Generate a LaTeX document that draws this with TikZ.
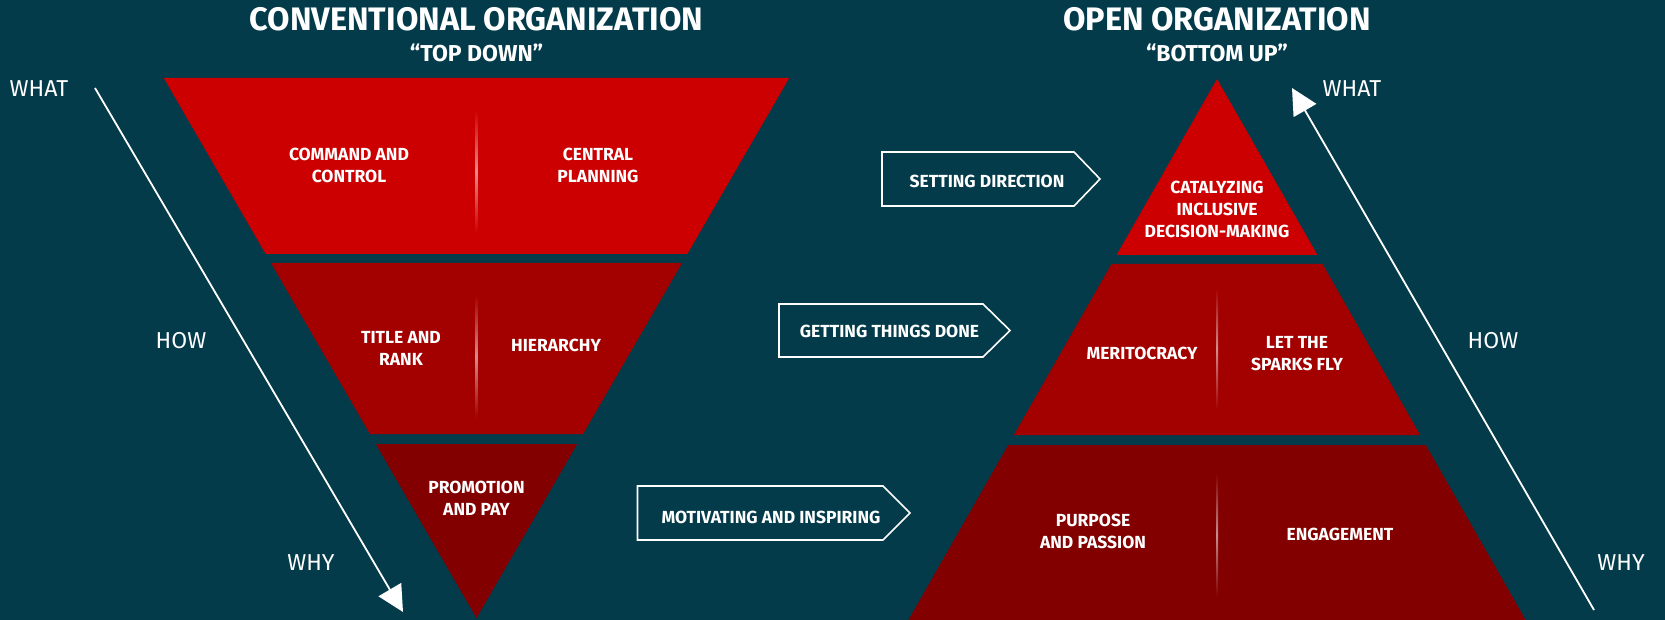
\documentclass[tikz,border=0pt]{standalone}
\usepackage{fontspec}
\setmainfont{Fira Sans}
\usepackage{tikz}
\usetikzlibrary{arrows.meta}

\definecolor{bgteal}{HTML}{033B4A}
\definecolor{redtop}{HTML}{CC0000}
\definecolor{redmid}{HTML}{A30000}
\definecolor{redlow}{HTML}{820000}

\tikzset{
  title/.style={text=white, font=\bfseries\fontsize{32.5}{36}\selectfont},
  subtitle/.style={text=white, font=\bfseries\fontsize{23}{26}\selectfont},
  side/.style={text=white, font=\fontsize{23}{26}\selectfont},
  lbl/.style={text=white, align=center, font=\bfseries\fontsize{17.5}{22}\selectfont},
  arrowbox/.style={draw=white, line width=1.6pt},
  flow/.style={draw=white, line width=1.8pt, -{Triangle[length=26pt,width=26pt]}},
}
\newcommand{\divider}[4]{\shade[top color=#1, bottom color=#1, middle color=#1!45!white]
  (#2-1,#3) rectangle (#2+1,#4);}

\begin{document}
\begin{tikzpicture}[x=1pt, y=-1pt]
\fill[bgteal] (0,0) rectangle (1665,620);
\useasboundingbox (0,0) rectangle (1665,620);

% conventional: top down
\begin{scope}
  \node[title] (convtitle) at (476.5,19) {CONVENTIONAL ORGANIZATION};
  \node[subtitle] (topdown) at (476.5,53) {``TOP DOWN''};
  \fill[redtop] (163.8,78) -- (789.2,78) -- (687.3,254) -- (265.7,254) -- cycle;
  \fill[redmid] (271,263) -- (682,263) -- (583,434) -- (370,434) -- cycle;
  \fill[redlow] (375.8,444) -- (577.2,444) -- (476.5,618) -- cycle;
  \divider{redtop}{476.5}{110}{233}
  \divider{redmid}{476.5}{295}{418}
  \node[lbl] (command) at (349,165) {COMMAND AND\\CONTROL};
  \node[lbl] (central) at (598,165) {CENTRAL\\PLANNING};
  \node[lbl] (title) at (401,348) {TITLE AND\\RANK};
  \node[lbl] (hierarchy) at (556,345) {HIERARCHY};
  \node[lbl] (promotion) at (476.5,498) {PROMOTION\\AND PAY};
  \node[side] (whatL) at (39,89) {WHAT};
  \node[side] (howL) at (181,341) {HOW};
  \node[side] (whyL) at (311,563) {WHY};
  \coordinate (downstart) at (95,88);
  \coordinate (downend) at (403,612);
  \draw[flow] (downstart) -- (downend);
\end{scope}

% open: bottom up
\begin{scope}
  \node[title] (opentitle) at (1217,19) {OPEN ORGANIZATION};
  \node[subtitle] (bottomup) at (1217,53) {``BOTTOM UP''};
  \fill[redtop] (1217,79) -- (1317.4,255) -- (1116.6,255) -- cycle;
  \fill[redmid] (1111.5,264) -- (1322.5,264) -- (1420.1,435) -- (1013.9,435) -- cycle;
  \fill[redlow] (1008.2,445) -- (1425.8,445) -- (1525.6,620) -- (908.4,620) -- cycle;
  \divider{redmid}{1217}{288}{410}
  \divider{redlow}{1217}{473}{597}
  \node[lbl] (catalyzing) at (1217,209) {CATALYZING\\INCLUSIVE\\DECISION-MAKING};
  \node[lbl] (meritocracy) at (1142,353) {MERITOCRACY};
  \node[lbl] (sparks) at (1297,354) {LET THE\\SPARKS FLY};
  \node[lbl] (purpose) at (1093,531) {PURPOSE\\AND PASSION};
  \node[lbl] (engagement) at (1340,534) {ENGAGEMENT};
  \node[side] (whatR) at (1352,89) {WHAT};
  \node[side] (howR) at (1493,341) {HOW};
  \node[side] (whyR) at (1621,563) {WHY};
  \coordinate (upstart) at (1594,610);
  \coordinate (upend) at (1292,88);
  \draw[flow] (upstart) -- (upend);
\end{scope}

% arrow boxes between
\draw[arrowbox] (882,152) -- (1074,152) -- (1100,179) -- (1074,206) -- (882,206) -- cycle;
\node[lbl] (setting) at (987,181) {SETTING DIRECTION};
\draw[arrowbox] (779,304) -- (983,304) -- (1010,330.5) -- (983,357) -- (779,357) -- cycle;
\node[lbl] (getting) at (889.5,331) {GETTING THINGS DONE};
\draw[arrowbox] (637.5,486) -- (883,486) -- (910,513) -- (883,540) -- (637.5,540) -- cycle;
\node[lbl] (motivating) at (771,517) {MOTIVATING AND INSPIRING};
\end{tikzpicture}
\end{document}
